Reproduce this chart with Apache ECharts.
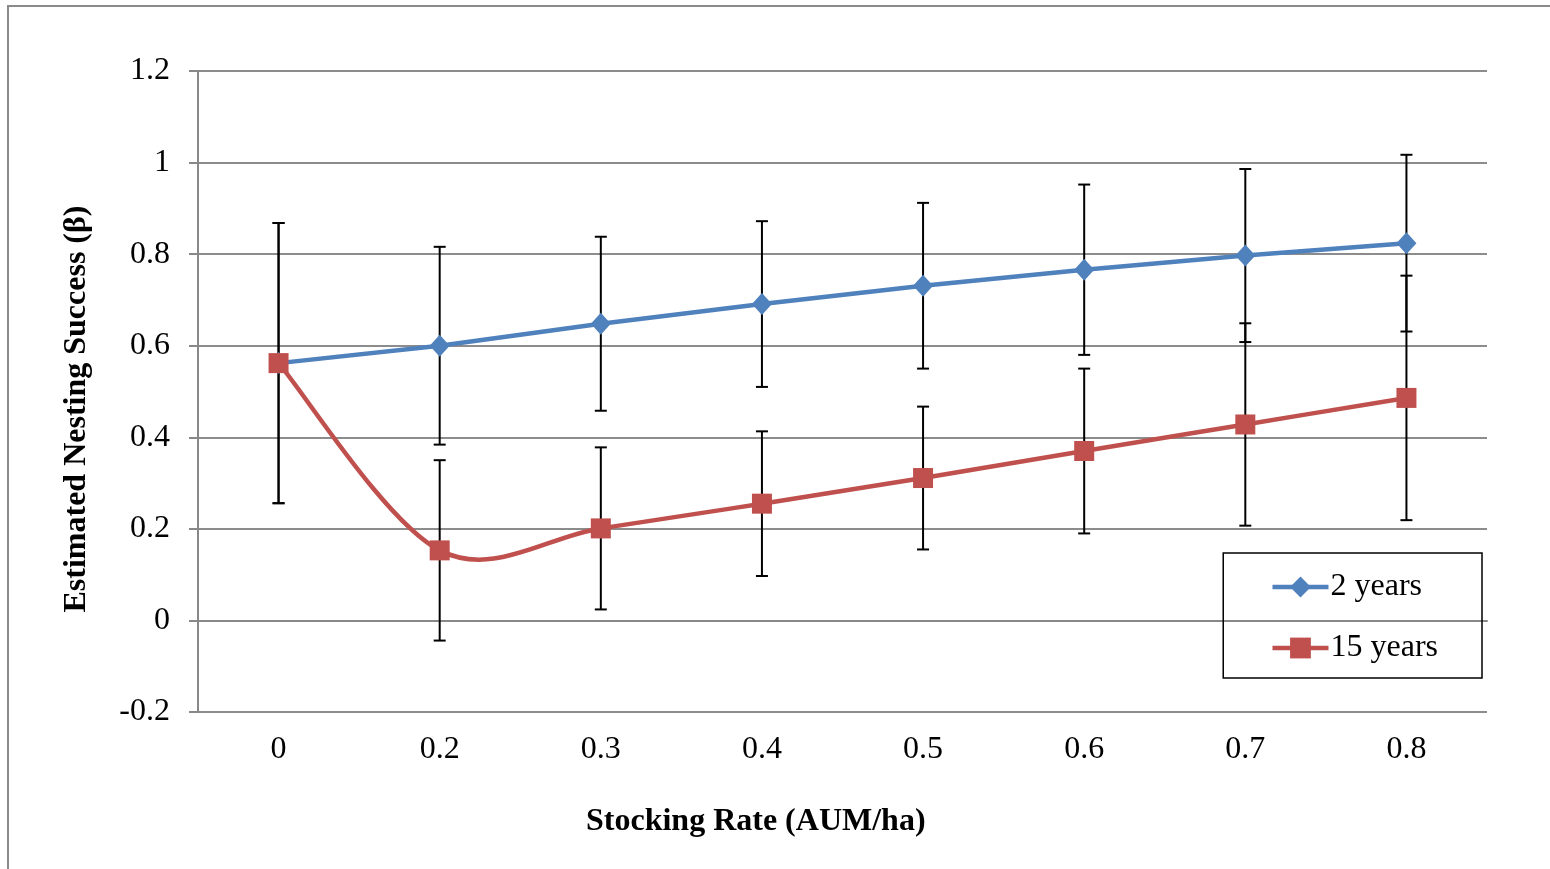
<!DOCTYPE html>
<html>
<head>
<meta charset="utf-8">
<script src="https://cdn.jsdelivr.net/npm/echarts@6/dist/echarts.min.js"></script>
<style>
html,body{margin:0;padding:0;background:#fff;}
#c{width:1550px;height:869px;}
</style>
</head>
<body>
<div id="c"></div>
<script>
const categories = ['0', '0.2', '0.3', '0.4', '0.5', '0.6', '0.7', '0.8'];
const yearsTwo = [0.562, 0.600, 0.648, 0.691, 0.731, 0.766, 0.797, 0.824];
const yearsTwoErr = [0.306, 0.216, 0.190, 0.181, 0.181, 0.186, 0.189, 0.193];
const yearsFifteen = [0.562, 0.153, 0.201, 0.255, 0.311, 0.370, 0.428, 0.486];
const yearsFifteenErr = [0.306, 0.197, 0.177, 0.158, 0.156, 0.180, 0.221, 0.267];
const yTicks = [-0.2, 0, 0.2, 0.4, 0.6, 0.8, 1, 1.2];

const FONT = '"Liberation Serif", "Times New Roman", serif';
const BLUE = '#4F81BD';
const RED = '#C0504D';

function errData(vals, errs) {
  return vals.map((v, i) => [i, v - errs[i], v + errs[i]]);
}

function renderErr(params, api) {
  const i = api.value(0);
  const lo = api.coord([i, api.value(1)]);
  const hi = api.coord([i, api.value(2)]);
  const hw = 6;
  const style = { stroke: '#000', lineWidth: 2, fill: null };
  return {
    type: 'group',
    children: [
      { type: 'line', shape: { x1: lo[0], y1: lo[1], x2: hi[0], y2: hi[1] }, style },
      { type: 'line', shape: { x1: lo[0] - hw, y1: lo[1], x2: lo[0] + hw, y2: lo[1] }, style },
      { type: 'line', shape: { x1: hi[0] - hw, y1: hi[1], x2: hi[0] + hw, y2: hi[1] }, style }
    ]
  };
}

// Excel-style smoothed line (Catmull-Rom bezier segments) through the library's coords
function makeSmoothRenderer(vals, color) {
  return function (params, api) {
    const i = params.dataIndex;
    const n = vals.length;
    if (i >= n - 1) return null;
    const P = j => api.coord([Math.max(0, Math.min(n - 1, j)), vals[Math.max(0, Math.min(n - 1, j))]]);
    const p0 = P(i - 1), p1 = P(i), p2 = P(i + 1), p3 = P(i + 2);
    return {
      type: 'bezierCurve',
      shape: {
        x1: p1[0], y1: p1[1], x2: p2[0], y2: p2[1],
        cpx1: p1[0] + (p2[0] - p0[0]) / 6, cpy1: p1[1] + (p2[1] - p0[1]) / 6,
        cpx2: p2[0] - (p3[0] - p1[0]) / 6, cpy2: p2[1] - (p3[1] - p1[1]) / 6
      },
      style: { stroke: color, lineWidth: 4.5, fill: null, lineCap: 'round' }
    };
  };
}

const chart = echarts.init(document.getElementById('c'), null, { renderer: 'canvas' });
chart.setOption({
  animation: false,
  backgroundColor: '#fff',
  textStyle: { fontFamily: FONT },
  grid: { left: 198, right: 63, top: 71, bottom: 157, containLabel: false },
  legend: {
    right: 68, top: 553,
    orient: 'vertical',
    padding: [18, 44, 14, 47],
    itemGap: 29,
    itemWidth: 56, itemHeight: 26,
    borderColor: '#000', borderWidth: 1.5,
    textStyle: { fontFamily: FONT, fontSize: 32, color: '#000', padding: [0, 0, 0, -3] },
    data: [
      { name: '2 years', lineStyle: { color: BLUE, width: 4.5, opacity: 1 } },
      { name: '15 years', lineStyle: { color: RED, width: 4.5, opacity: 1 } }
    ]
  },
  xAxis: {
    type: 'category',
    data: categories,
    boundaryGap: true,
    axisLine: { lineStyle: { color: '#888', width: 2 } },
    axisTick: { show: false },
    axisLabel: { fontFamily: FONT, fontSize: 32, color: '#000', margin: 22 },
    splitLine: { show: false }
  },
  yAxis: {
    type: 'value',
    min: -0.2, max: 1.2, interval: 0.2,
    axisLine: { show: true, lineStyle: { color: '#888', width: 2 } },
    axisTick: { show: true, inside: false, length: 9, lineStyle: { color: '#888', width: 2 } },
    axisLabel: {
      fontFamily: FONT, fontSize: 32, color: '#000', margin: 28,
      formatter: v => {
        const r = Math.round(v * 10) / 10;
        return yTicks.indexOf(r) >= 0 ? String(r) : '';
      }
    },
    splitLine: { show: true, lineStyle: { color: '#8c8c8c', width: 2 } }
  },
  graphic: [
    { type: 'polyline', shape: { points: [[8, 900], [8, 6], [1550, 6]] }, style: { stroke: '#8a8a8a', lineWidth: 2, fill: null }, silent: true },
    { type: 'text', left: 586, top: 806, style: { text: 'Stocking Rate (AUM/ha)', font: 'bold 32px ' + FONT, fill: '#000' } },
    { type: 'text', x: 77, y: 409, rotation: Math.PI / 2, style: { text: 'Estimated Nesting Success (β)', font: 'bold 32px ' + FONT, fill: '#000', align: 'center', verticalAlign: 'middle' } }
  ],
  series: [
    {
      type: 'custom', name: 'err2', renderItem: renderErr, data: errData(yearsTwo, yearsTwoErr),
      encode: { x: 0, y: [1, 2] }, z: 1, silent: true
    },
    {
      type: 'custom', name: 'err15', renderItem: renderErr, data: errData(yearsFifteen, yearsFifteenErr),
      encode: { x: 0, y: [1, 2] }, z: 1, silent: true
    },
    {
      type: 'line', name: '2 years', data: yearsTwo,
      symbol: 'diamond', symbolSize: [20, 22],
      lineStyle: { color: BLUE, width: 4.5 },
      itemStyle: { color: BLUE },
      z: 3
    },
    {
      type: 'custom', name: 'smooth15', renderItem: makeSmoothRenderer(yearsFifteen, RED),
      data: yearsFifteen.map((v, i) => [i, v]),
      encode: { x: 0, y: 1 }, z: 3, silent: true
    },
    {
      type: 'line', name: '15 years', data: yearsFifteen,
      symbol: 'rect', symbolSize: 20,
      lineStyle: { color: RED, width: 4.5, opacity: 0 },
      itemStyle: { color: RED },
      z: 4
    }
  ]
});
</script>
</body>
</html>
